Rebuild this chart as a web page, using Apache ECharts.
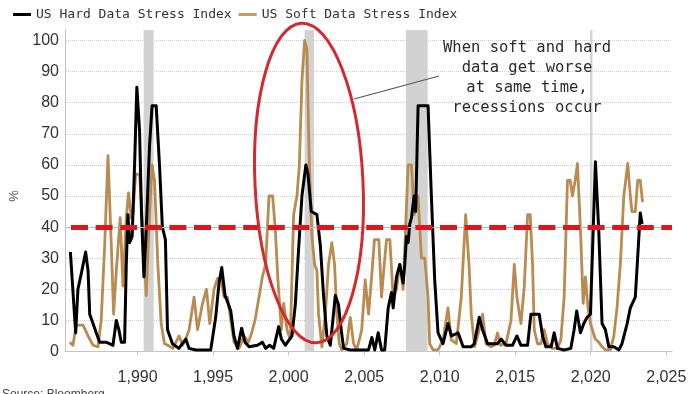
<!DOCTYPE html>
<html><head><meta charset="utf-8">
<script src="https://cdn.jsdelivr.net/npm/echarts@6/dist/echarts.min.js"></script>
<style>html,body{margin:0;padding:0;background:#fff}#c{width:700px;height:394px}</style>
</head><body><div id="c"></div>
<script>
const seriesNames = ['US Hard Data Stress Index', 'US Soft Data Stress Index'];

const hardX = [1985.55,1985.90,1986.05,1986.27,1986.56,1986.72,1986.83,1987.05,1987.26,1987.49,1987.92,1988.37,1988.59,1988.76,1988.92,1989.14,1989.25,1989.36,1989.47,1989.64,1989.80,1989.95,1990.13,1990.26,1990.42,1990.57,1990.79,1990.96,1991.23,1991.45,1991.64,1991.84,1991.98,1992.31,1992.73,1993.19,1993.41,1993.85,1994.84,1995.17,1995.39,1995.57,1995.79,1995.95,1996.17,1996.38,1996.61,1996.89,1997.11,1997.38,1997.93,1998.26,1998.48,1998.74,1999.01,1999.34,1999.52,1999.78,2000.22,2000.44,2000.66,2000.88,2001.14,2001.28,2001.50,2001.87,2002.10,2002.31,2002.53,2002.76,2003.09,2003.30,2003.48,2003.64,2004.10,2005.29,2005.51,2005.70,2005.93,2006.15,2006.36,2006.59,2006.81,2006.92,2007.14,2007.36,2007.58,2007.69,2007.80,2007.91,2008.02,2008.13,2008.31,2008.41,2008.57,2009.23,2009.45,2009.67,2009.89,2010.22,2010.55,2010.77,2011.22,2011.55,2012.09,2012.29,2012.62,2012.84,2013.17,2013.83,2014.06,2014.39,2014.82,2015.11,2015.38,2015.82,2016.04,2016.59,2016.81,2017.03,2017.38,2017.58,2017.80,2018.24,2018.68,2018.90,2019.07,2019.32,2019.54,2019.76,2019.98,2020.31,2020.53,2020.75,2020.97,2021.20,2021.53,2021.86,2022.07,2022.41,2022.62,2022.95,2023.07,2023.28,2023.40];
const hardY = [32,6,20,25,32,26,12,9,6,3,3,2,10,7,3,3,28,44,35,37,60,85,71,44,24,39,66,79,79,60,40,36,7,2.5,1,4,1,0.5,0.5,11,22,27,18,16,13,5,1,7.5,3,1.5,2,3,1,2,1,8,4,2,5,15,33,50,60,57,45,44,34,18,5,2,18,15,7,1,0.5,0.5,4.5,0.5,6,0.5,0.5,14,19,14,24,28,22,28,37,35,41,43,50,45,79,79,50,23,6,2.5,9,5,6,1.5,1.5,2.5,11,7,2.5,2.5,4,2,2,5,2,2,12,12,5,1.5,1.5,6,1,0.5,1,7,13,6,9,11,12,61,39,9,7,1.5,1.5,0.5,2.5,9,14,17.5,17.5,44.5,41];

const softX = [1985.51,1985.72,1985.94,1986.39,1986.72,1987.05,1987.38,1987.59,1987.82,1988.04,1988.26,1988.41,1988.59,1988.85,1989.03,1989.25,1989.40,1989.58,1989.69,1989.87,1990.13,1990.35,1990.57,1990.79,1990.96,1991.12,1991.34,1991.56,1991.78,1992.00,1992.33,1992.75,1992.97,1993.19,1993.41,1993.74,1993.97,1994.30,1994.56,1994.78,1995.06,1995.29,1995.51,1995.72,1995.95,1996.17,1996.38,1996.71,1997.05,1997.34,1997.55,1997.77,1998.04,1998.26,1998.48,1998.70,1998.94,1999.12,1999.29,1999.52,1999.67,1999.89,2000.11,2000.33,2000.55,2000.71,2000.88,2001.06,2001.21,2001.37,2001.54,2001.72,2001.87,2001.98,2002.20,2002.43,2002.64,2002.86,2003.04,2003.19,2003.35,2003.52,2003.85,2004.08,2004.30,2004.51,2004.84,2005.07,2005.29,2005.51,2005.68,2005.97,2006.15,2006.33,2006.48,2006.70,2006.92,2007.14,2007.36,2007.58,2007.91,2008.13,2008.31,2008.57,2008.79,2009.01,2009.23,2009.34,2009.56,2009.89,2010.22,2010.55,2010.77,2011.10,2011.43,2011.72,2011.94,2012.09,2012.31,2012.62,2012.84,2013.07,2013.40,2013.61,2013.83,2014.01,2014.39,2014.72,2014.94,2015.11,2015.38,2015.60,2015.82,2015.99,2016.15,2016.26,2016.48,2016.70,2016.92,2017.14,2017.47,2017.80,2018.02,2018.24,2018.46,2018.64,2018.79,2018.97,2019.12,2019.32,2019.50,2019.65,2019.81,2019.98,2020.30,2020.53,2020.75,2020.97,2021.30,2021.53,2021.74,2021.96,2022.19,2022.45,2022.62,2022.73,2022.95,2023.11,2023.28,2023.43];
const softY = [3,2,8.5,8.5,5,2,1.5,10,34,63,34,12,26,43,21,43,51,43,44,57,57,39,18,44,60,55,28,9,2.5,2,1,5,2,4,7,17.5,7,15.5,20,9,20,23.5,23.5,17.5,17.5,10,3,1,5,3,6,10,17.5,24,28,50,50,39,23,7,15.5,7,4,44,50,60,87,100,97,60,37,28,26,12,1.5,12,28,35,28,12,2.5,0.5,2.5,11,2.5,0.5,7,23,12,25,36,36,17.5,28,36,36,17.5,20,28,20,60,60,44,50,30,30,17.5,2.5,0.5,0.5,3.7,14,3.7,2.5,17.5,44,28,12,1.5,7,12,2.5,1.5,2,6,2,2.5,10,28,17.5,9,21,44,44,28,7,2.5,2.5,7,2.5,1,1,3.7,17.5,55,55,50,55,60.5,39,15.5,24,14.4,9,4,3,1.5,0.5,0.5,5,14,28,50,60.5,50,45,45,55,55,48];

const recessionStarts = [1990.46, 2001.10, 2007.80, 2019.97];
const recessionEnds   = [1991.12, 2001.72, 2009.23, 2020.12];

const xTickYears = [1990, 1995, 2000, 2005, 2010, 2015, 2020, 2025];
const xMin = 1985.26, xMax = 2025.38;
const yMin = 0, yMax = 100, yStep = 10;
const thresholdValue = 40;
const annotationText = 'When soft and hard\ndata get worse\nat same time,\nrecessions occur';

const zip = (xs, ys) => xs.map((x, i) => [x, ys[i]]);

const chart = echarts.init(document.getElementById('c'), null, {renderer: 'canvas'});
const sansFont = 'Liberation Sans';
const monoFont = 'DejaVu Sans Mono';

chart.setOption({
  animation: false,
  backgroundColor: '#fff',
  legend: {
    data: seriesNames,
    top: 3, left: 8,
    icon: 'rect', itemWidth: 18, itemHeight: 3, itemGap: 7,
    textStyle: {fontFamily: monoFont, fontSize: 13, color: '#333'}
  },
  grid: [
    {left: 65, right: 28, top: 40.5, bottom: 42.5},
    {left: 65, right: 28, top: 30, bottom: 42.5}
  ],
  xAxis: [
    {gridIndex: 0, type: 'value', min: xMin, max: xMax,
     axisLine: {show: true, lineStyle: {color: '#c4c4c4', width: 1}},
     axisTick: {show: true, customValues: xTickYears, length: 4, lineStyle: {color: '#c4c4c4'}},
     axisLabel: {customValues: xTickYears, margin: 18, fontSize: 16, color: '#333', fontFamily: sansFont},
     splitLine: {show: false}},
    {gridIndex: 1, type: 'value', min: xMin, max: xMax, show: false}
  ],
  yAxis: [
    {gridIndex: 0, type: 'value', min: yMin, max: yMax, interval: yStep,
     name: '%', nameLocation: 'middle', nameRotate: 90, nameGap: 45,
     nameTextStyle: {fontSize: 13, color: '#555', fontFamily: sansFont},
     axisLine: {show: false}, axisTick: {show: false},
     axisLabel: {fontSize: 16, color: '#333', margin: 7, fontFamily: sansFont},
     splitLine: {show: true, lineStyle: {type: 'dotted', color: '#cfcfcf', width: 1}}},
    {gridIndex: 1, type: 'value', min: 0, max: 1,
     axisLine: {show: true, lineStyle: {color: '#c4c4c4'}},
     axisTick: {show: false}, axisLabel: {show: false}, splitLine: {show: false}}
  ],
  series: [
    {name: 'recessions', type: 'line', xAxisIndex: 1, yAxisIndex: 1, data: [], z: 0,
     silent: true,
     markArea: {silent: true, itemStyle: {color: '#d2d2d2'},
       data: recessionStarts.map((s, i) => [{xAxis: s}, {xAxis: recessionEnds[i]}])}},
    {name: seriesNames[0], type: 'line', data: zip(hardX, hardY), showSymbol: false,
     lineStyle: {color: '#000', width: 3, join: 'round'}, itemStyle: {color: '#000'}, z: 4},
    {name: seriesNames[1], type: 'line', data: zip(softX, softY), showSymbol: false,
     lineStyle: {color: '#ba8b50', width: 2.8, join: 'round'}, itemStyle: {color: '#c49a66'}, z: 3},
    {name: 'threshold', type: 'line', data: [], z: 6, silent: true,
     markLine: {silent: true, symbol: ['none', 'none'], label: {show: false},
       data: [
         {yAxis: thresholdValue, lineStyle: {color: '#7fd6dc', width: 1, type: 'solid'}},
         {yAxis: thresholdValue, lineStyle: {color: '#e0141c', width: 5, type: [17, 7.6], dashOffset: 19.6}}
       ]}}
  ],
  graphic: [
    {type: 'ellipse', x: 309, y: 183, rotation: 0.047, shape: {cx: 0, cy: 0, rx: 54, ry: 160},
     style: {fill: 'none', stroke: '#d42a2f', lineWidth: 3}, z: 100},
    {type: 'line', shape: {x1: 354, y1: 99, x2: 439, y2: 76},
     style: {stroke: '#555', lineWidth: 1.2}, z: 100},
    {type: 'text', x: 527, y: 38,
     style: {text: annotationText, fill: '#2a2a2a', fontSize: 15.5, fontFamily: monoFont,
       align: 'center', verticalAlign: 'top', lineHeight: 20}, z: 100},
    {type: 'text', x: 2, y: 389,
     style: {text: 'Source: Bloomberg', fill: '#444', fontSize: 12, fontFamily: sansFont}, z: 100}
  ]
});
</script>
</body></html>
